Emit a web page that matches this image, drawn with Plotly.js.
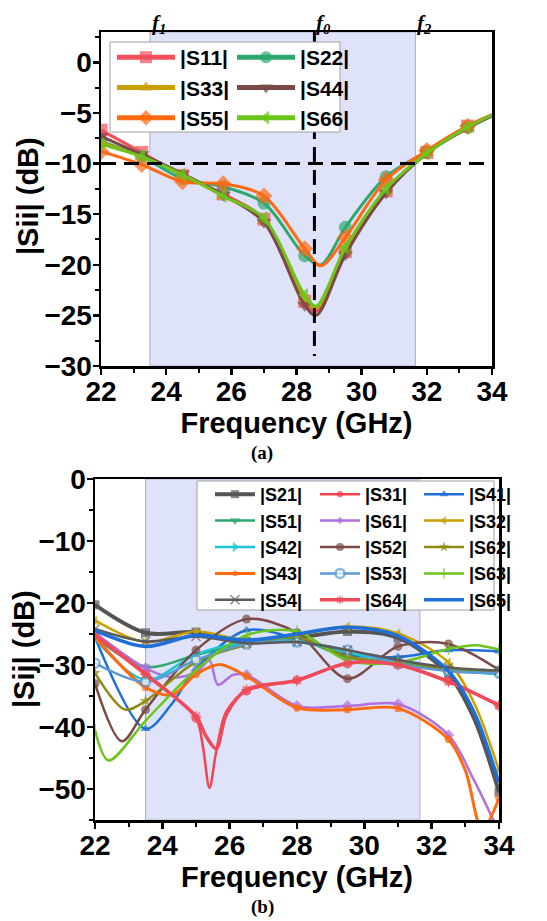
<!DOCTYPE html>
<html>
<head>
<meta charset="utf-8">
<script src="https://cdn.plot.ly/plotly-3.0.1.min.js"></script>
<style>html,body{margin:0;padding:0;background:#fff;}#chart{width:547px;height:921px;}</style>
</head>
<body>
<div id="chart"></div>
<script>
// ---------- (a) reflection coefficients |Sii| ----------
const s11x = [22, 23.25, 24.5, 25.75, 27, 28.25, 28.6, 29.5, 30.75, 32, 33.25, 34];
const s11y = [-6.7, -8.9, -11.2, -13.0, -15.5, -23.6, -24.6, -18.7, -12.7, -8.9, -6.3, -5.2];
const s22x = [22, 23.25, 24.5, 25.75, 27, 28.25, 28.75, 29.5, 30.75, 32, 33.25, 34];
const s22y = [-7.8, -9.3, -11.5, -12.3, -13.9, -19.1, -20.0, -16.3, -11.3, -8.8, -6.4, -5.2];
const s33x = [22, 23.25, 24.5, 25.75, 27, 28.25, 28.6, 29.5, 30.75, 32, 33.25, 34];
const s33y = [-7.9, -9.3, -11.1, -13.2, -15.6, -23.3, -24.3, -18.6, -12.7, -8.9, -6.4, -5.2];
const s44x = [22, 23.25, 24.5, 25.75, 27, 28.25, 28.6, 29.5, 30.75, 32, 33.25, 34];
const s44y = [-7.3, -9.1, -11.0, -13.1, -15.8, -24.0, -25.0, -19.0, -12.9, -9.0, -6.5, -5.3];
const s55x = [22, 23.25, 24.5, 25.75, 27, 28.25, 28.75, 29.5, 30.75, 32, 33.25, 34];
const s55y = [-8.8, -10.1, -11.8, -12.0, -13.2, -18.4, -20.1, -17.3, -11.6, -8.7, -6.3, -5.2];
const s66x = [22, 23.25, 24.5, 25.75, 27, 28.25, 28.6, 29.5, 30.75, 32, 33.25, 34];
const s66y = [-8.1, -9.3, -11.1, -13.2, -15.4, -23.0, -24.1, -18.3, -12.5, -9.0, -6.4, -5.2];

// ---------- (b) coupling |Sij| ----------
const s21x = [22, 23.5, 25, 26.5, 28, 29.5, 31, 32.5, 33.25, 34];
const s21y = [-20.3, -24.8, -24.7, -26.2, -25.6, -24.6, -25.6, -31.5, -38.5, -50.5];
const s31x = [22, 23.5, 25, 25.2, 25.4, 25.6, 25.9, 26.5, 28, 29.5, 31, 32.5, 34];
const s31y = [-25.0, -31.3, -38.6, -43.0, -49.8, -44.0, -37.5, -34.2, -32.4, -29.8, -29.9, -32.6, -36.6];
const s41x = [22, 23.5, 24.25, 25, 26.5, 28, 29.5, 31, 32.5, 34];
const s41y = [-25.5, -40.3, -36.5, -30.6, -24.4, -25.8, -28.3, -28.7, -27.6, -27.8];
const s51x = [22, 23.5, 25, 26.5, 28, 29.5, 31, 32.5, 34];
const s51y = [-25.5, -30.3, -28.4, -26.4, -25.8, -28.8, -29.4, -30.6, -31.0];
const s61x = [22, 23.5, 24.3, 25, 25.4, 25.65, 26.1, 26.5, 28, 29.5, 31, 32.5, 33.25, 34];
const s61y = [-24.8, -30.5, -32.0, -31.2, -29.3, -33.2, -31.6, -31.6, -36.6, -36.6, -36.3, -41.3, -48.5, -57.0];
const s32x = [22, 23.5, 25, 26.5, 28, 29.5, 31, 32.5, 33.25, 34];
const s32y = [-22.8, -26.3, -24.6, -26.0, -25.2, -23.8, -24.9, -29.6, -36.0, -47.0];
const s42x = [22, 23.5, 25, 26.5, 28, 29.5, 31, 32.5, 34];
const s42y = [-25.8, -32.4, -28.3, -26.3, -26.2, -28.0, -29.6, -30.8, -31.5];
const s52x = [22, 22.8, 23.5, 25, 26.5, 28, 29.5, 31, 32.5, 34];
const s52y = [-33.0, -42.3, -37.2, -27.6, -22.6, -24.8, -32.2, -27.0, -26.6, -30.8];
const s62x = [22, 22.9, 23.5, 25, 26.5, 28, 29.5, 31, 32.5, 34];
const s62y = [-31.3, -37.2, -35.8, -29.5, -26.8, -25.5, -28.6, -29.8, -30.6, -31.0];
const s43x = [22, 23.5, 24.3, 25, 25.7, 26.5, 28, 29.5, 31, 32.5, 33, 33.5, 34];
const s43y = [-25.5, -33.6, -34.8, -31.5, -29.9, -31.8, -36.9, -37.2, -37.0, -42.0, -47.0, -56.5, -51.5];
const s53x = [22, 23.5, 25, 26.5, 28, 29.5, 31, 32.5, 34];
const s53y = [-29.7, -32.7, -29.2, -26.6, -26.3, -27.6, -29.8, -31.0, -31.3];
const s63x = [22, 22.4, 23.5, 25, 26.5, 28, 29.5, 31, 32.5, 33.3, 34];
const s63y = [-40.5, -45.4, -39.0, -30.8, -25.2, -24.6, -29.3, -29.6, -27.4, -26.8, -27.5];
const s54x = [22, 23.5, 25, 26.5, 28, 29.5, 31, 32.5, 34];
const s54y = [-24.2, -26.2, -25.4, -26.5, -26.3, -27.6, -29.2, -30.4, -30.9];
const s64x = [22, 23.5, 25, 25.3, 25.6, 25.9, 26.5, 28, 29.5, 31, 32.5, 34];
const s64y = [-25.2, -31.5, -38.3, -41.5, -43.5, -38.0, -34.0, -32.5, -29.7, -30.0, -32.7, -36.5];
const s65x = [22, 23.5, 25, 26.5, 28, 29.5, 31, 32.5, 33.25, 34];
const s65y = [-24.4, -27.0, -25.2, -26.0, -25.0, -23.9, -25.3, -31.0, -37.5, -49.0];

// axis ticks / bands
const xTicks = [22, 24, 26, 28, 30, 32, 34];
const yTicksA = [-30, -25, -20, -15, -10, -5, 0];
const yTicksB = [-50, -40, -30, -20, -10, 0];
const band = [23.5, 31.65];
const f0 = 28.55;
const thresh = -10;

const FONT = 'Liberation Sans, Arial, sans-serif';
const SERIF = 'Liberation Serif, Times New Roman, serif';

function onGrid(x, step) {
  const k = (x - 22) / step;
  return Math.abs(k - Math.round(k)) < 1e-6;
}
function mk(name, xs, ys, color, symbol, opts) {
  const o = opts || {};
  const sz = xs.map(x => onGrid(x, o.step) ? o.msize : 0);
  return {
    type: 'scatter', mode: o.nomarker ? 'lines' : 'lines+markers', name: name,
    x: xs, y: ys, xaxis: o.xa, yaxis: o.ya, legend: o.legend,
    line: {color: color, width: o.lw, shape: 'spline', smoothing: 0.9},
    marker: {symbol: symbol, size: sz, color: o.mcolor || color,
             line: {width: o.mlw || 0, color: o.mlcolor || color}},
    cliponaxis: true
  };
}
const A = {step: 1.25, msize: 13, lw: 3, xa: 'x', ya: 'y'};
const traces = [
  mk('|S11|', s11x, s11y, '#F4505C', 'square', Object.assign({}, A, {legend: 'legend'})),
  mk('|S22|', s22x, s22y, '#2EA86E', 'circle', Object.assign({}, A, {legend: 'legend2'})),
  mk('|S33|', s33x, s33y, '#C9A000', 'triangle-up', Object.assign({}, A, {legend: 'legend'})),
  mk('|S44|', s44x, s44y, '#7B4A46', 'triangle-down', Object.assign({}, A, {legend: 'legend2'})),
  mk('|S55|', s55x, s55y, '#FF6A12', 'diamond', Object.assign({}, A, {legend: 'legend'})),
  mk('|S66|', s66x, s66y, '#6CC51D', 'triangle-left', Object.assign({}, A, {legend: 'legend2'}))
];
const B = {step: 1.5, msize: 9, lw: 2.5, xa: 'x2', ya: 'y2'};
const bList = [
  ['|S21|', s21x, s21y, '#555555', 'square', {lw: 4}],
  ['|S31|', s31x, s31y, '#F2434F', 'circle', {}],
  ['|S41|', s41x, s41y, '#1F6FD8', 'triangle-up', {}],
  ['|S51|', s51x, s51y, '#2EA86E', 'triangle-down', {}],
  ['|S61|', s61x, s61y, '#B070E0', 'diamond', {}],
  ['|S32|', s32x, s32y, '#C9A000', 'triangle-left', {}],
  ['|S42|', s42x, s42y, '#19C8D2', 'triangle-right', {}],
  ['|S52|', s52x, s52y, '#7B4A46', 'circle', {}],
  ['|S62|', s62x, s62y, '#8C8A10', 'star', {}],
  ['|S43|', s43x, s43y, '#FF6A12', 'pentagon', {lw: 3}],
  ['|S53|', s53x, s53y, '#5B9BD5', 'circle', {mcolor: '#ffffff', mlw: 2.5, mlcolor: '#5B9BD5'}],
  ['|S63|', s63x, s63y, '#6CC51D', 'line-ns-open', {mlw: 1.5}],
  ['|S54|', s54x, s54y, '#5A5A5A', 'x-thin-open', {mlw: 1.5, mlcolor: '#A0A0A0'}],
  ['|S64|', s64x, s64y, '#F04A58', 'asterisk-open', {lw: 3.5, mlw: 1.5, mlcolor: '#F47A86'}],
  ['|S65|', s65x, s65y, '#1F6FD8', 'circle', {lw: 3.5, nomarker: true}]
];
const bLegends = ['legend3', 'legend4', 'legend5'];
bList.forEach((d, i) => {
  traces.push(mk(d[0], d[1], d[2], d[3], d[4],
    Object.assign({}, B, {legend: bLegends[i % 3]}, d[5])));
});

const W = 547, H = 921;
const px = v => v / W, py = v => 1 - v / H;

function axisX(domain, anchor) {
  return {
    domain: domain, anchor: anchor, range: [22, 34], tickvals: xTicks,
    ticks: 'outside', ticklen: 6, tickwidth: 2.5, tickcolor: '#000', ticklabelstandoff: -7,
    minor: {dtick: 1, tick0: 22, ticks: 'outside', ticklen: 4, tickwidth: 2, tickcolor: '#000'},
    showline: true, linewidth: 2.5, linecolor: '#000', mirror: true,
    showgrid: false, zeroline: false,
    tickfont: {family: FONT, size: 28, color: '#000', weight: 'bold'},
    title: {text: 'Frequency (GHz)', font: {family: FONT, size: 29, color: '#000', weight: 'bold'}, standoff: 0}
  };
}
function axisY(domain, anchor, range, ticks, minorStep) {
  return {
    domain: domain, anchor: anchor, range: range, tickvals: ticks,
    ticks: 'outside', ticklen: 6, tickwidth: 2.5, tickcolor: '#000', ticklabelstandoff: -5,
    minor: {dtick: minorStep, tick0: 0, ticks: 'outside', ticklen: 4, tickwidth: 2, tickcolor: '#000'},
    showline: true, linewidth: 2.5, linecolor: '#000', mirror: true,
    showgrid: false, zeroline: false,
    tickfont: {family: FONT, size: 28, color: '#000', weight: 'bold'}
  };
}
function leg(x, y, size, iw, sizing) {
  return {
    x: x, y: y, xanchor: 'left', yanchor: 'top', orientation: 'v',
    bgcolor: 'rgba(0,0,0,0)', borderwidth: 0, tracegroupgap: 0,
    font: {family: FONT, size: size, color: '#000', weight: 'bold'},
    itemsizing: sizing, itemwidth: iw
  };
}
function ytitle(text, xpx, ymid) {
  return {xref: 'paper', yref: 'paper', x: px(xpx), y: py(ymid), text: text, textangle: -90,
    showarrow: false, xanchor: 'center', yanchor: 'middle',
    font: {family: FONT, size: 29, color: '#000', weight: 'bold'}};
}

const layout = {
  width: W, height: H, margin: {l: 0, r: 0, t: 0, b: 0},
  paper_bgcolor: '#fff', plot_bgcolor: '#fff', showlegend: true,
  xaxis: axisX([px(101), px(492)], 'y'),
  yaxis: axisY([py(366), py(32)], 'x', [-30, 3], yTicksA, 2.5),
  xaxis2: axisX([px(95), px(499)], 'y2'),
  yaxis2: axisY([py(820), py(479)], 'x2', [-55, 0], yTicksB, 5),
  legend: leg(px(112), py(37), 21, 58, 'constant'),
  legend2: leg(px(232), py(37), 21, 58, 'constant'),
  legend3: leg(px(210), py(476), 18, 40, 'trace'),
  legend4: leg(px(315), py(476), 18, 40, 'trace'),
  legend5: leg(px(419), py(476), 18, 40, 'trace'),
  shapes: [
    {type: 'rect', xref: 'x', yref: 'paper', x0: band[0], x1: band[1], y0: py(366), y1: py(32),
     fillcolor: '#DEE3F9', line: {color: '#A9AFC9', width: 1}, layer: 'below'},
    {type: 'rect', xref: 'x2', yref: 'paper', x0: band[0], x1: band[1], y0: py(820), y1: py(479),
     fillcolor: '#DEE3F9', line: {color: '#A9AFC9', width: 1}, layer: 'below'},
    {type: 'line', xref: 'x', yref: 'y', x0: 22, x1: 34, y0: thresh, y1: thresh,
     line: {color: '#000', width: 3, dash: '15px,8px'}, layer: 'above'},
    {type: 'line', xref: 'x', yref: 'y', x0: f0, x1: f0, y0: 3, y1: -29,
     line: {color: '#000', width: 3, dash: '15px,8px'}, layer: 'above'},
    {type: 'rect', xref: 'paper', yref: 'paper', x0: px(110), x1: px(340), y0: py(132), y1: py(42),
     fillcolor: '#fff', line: {color: '#A0A0A0', width: 1}, layer: 'above'},
    {type: 'rect', xref: 'paper', yref: 'paper', x0: px(197), x1: px(494), y0: py(610), y1: py(481),
     fillcolor: '#fff', line: {color: '#A0A0A0', width: 1}, layer: 'above'}
  ],
  annotations: [
    ytitle('|Sii| (dB)', 28, 196),
    ytitle('|Sij| (dB)', 24, 649),
    {xref: 'x', yref: 'paper', x: band[0], y: py(24), text: '<b><i>f</i></b><sub><b><i>1</i></b></sub>',
     showarrow: false, xanchor: 'left', yanchor: 'middle', font: {family: SERIF, size: 21, color: '#000'}},
    {xref: 'x', yref: 'paper', x: f0, y: py(24), text: '<b><i>f</i></b><sub><b><i>0</i></b></sub>',
     showarrow: false, xanchor: 'left', yanchor: 'middle', font: {family: SERIF, size: 21, color: '#000'}},
    {xref: 'x', yref: 'paper', x: band[1], y: py(24), text: '<b><i>f</i></b><sub><b><i>2</i></b></sub>',
     showarrow: false, xanchor: 'left', yanchor: 'middle', font: {family: SERIF, size: 21, color: '#000'}},
    {xref: 'paper', yref: 'paper', x: px(262), y: py(453), text: '<b>(a)</b>', showarrow: false,
     xanchor: 'center', yanchor: 'middle', font: {family: SERIF, size: 19, color: '#000'}},
    {xref: 'paper', yref: 'paper', x: px(262), y: py(907), text: '<b>(b)</b>', showarrow: false,
     xanchor: 'center', yanchor: 'middle', font: {family: SERIF, size: 19, color: '#000'}}
  ]
};

Plotly.newPlot('chart', traces, layout, {staticPlot: true, displayModeBar: false});
</script>
</body>
</html>
